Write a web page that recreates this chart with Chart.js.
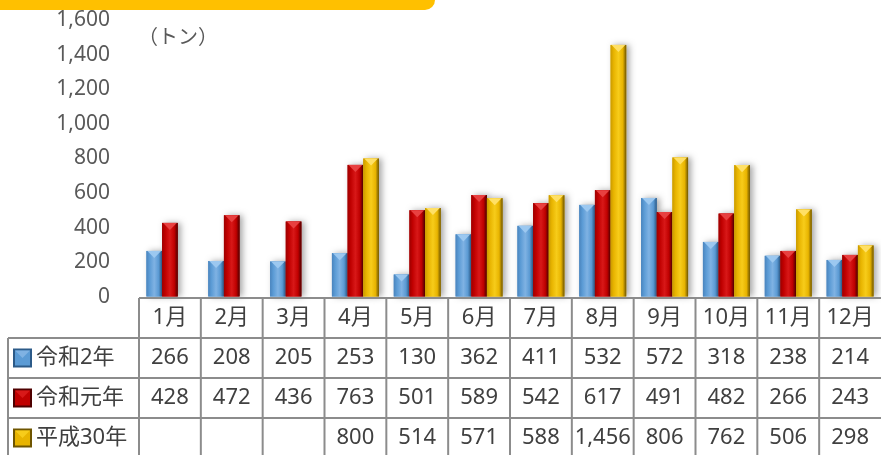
<!DOCTYPE html>
<html lang="ja">
	<head>
		<meta charset="utf-8" />
		<title>月別数量</title>
		<script src="https://cdn.jsdelivr.net/npm/chart.js@4/dist/chart.umd.min.js"></script>
		<style>
			html, body { margin: 0; padding: 0; background: #fff; }
			#wrap { position: relative; width: 881px; height: 455px; }
		</style>
	</head>
	<body>
		<div id="wrap"><canvas id="chart" width="881" height="455"></canvas></div>

		<script>
			const months = ["1月", "2月", "3月", "4月", "5月", "6月", "7月", "8月", "9月", "10月", "11月", "12月"];
			const seriesNames = ["令和2年", "令和元年", "平成30年"];
			const reiwa2 = [266, 208, 205, 253, 130, 362, 411, 532, 572, 318, 238, 214];
			const reiwa1 = [428, 472, 436, 763, 501, 589, 542, 617, 491, 482, 266, 243];
			const heisei30 = [null, null, null, 800, 514, 571, 588, 1456, 806, 762, 506, 298];
			const yTicks = [0, 200, 400, 600, 800, 1000, 1200, 1400, 1600];
			const unitLabel = "（トン）";

			const FONT = "'Noto Sans', 'Noto Sans CJK JP', sans-serif";
			// colors for the bevelled bars: [left, light, mid, dark, cap]
			const palettes = [
				["#4a84bd", "#7fb2e3", "#5b9bd5", "#2c5a88", "#9cc8f0"],
				["#9c0000", "#d81818", "#c00000", "#4e0000", "#e84040"],
				["#c99a00", "#f7cc1a", "#e8b400", "#6e5500", "#ffe066"],
			];

			function fmt(v) {
				return v == null ? "" : v.toLocaleString("en-US");
			}

			function bevelFill(ctx, l, t, r, b, pal) {
				const g = ctx.createLinearGradient(l, 0, r, 0);
				g.addColorStop(0, pal[0]);
				g.addColorStop(0.2, pal[2]);
				g.addColorStop(0.5, pal[1]);
				g.addColorStop(0.78, pal[2]);
				g.addColorStop(1, pal[3]);
				ctx.fillStyle = g;
				ctx.fillRect(l, t, r - l, b - t);
			}

			const bevelBars = {
				id: "bevelBars",
				afterDatasetsDraw(chart) {
					const ctx = chart.ctx;
					ctx.save();
					chart.data.datasets.forEach((ds, di) => {
						const meta = chart.getDatasetMeta(di);
						const pal = palettes[di];
						meta.data.forEach((bar, i) => {
							if (ds.data[i] == null) return;
							const l = bar.x - bar.width / 2;
							const r = bar.x + bar.width / 2;
							const t = bar.y;
							const b = bar.base;
							const w = r - l;
							// soft shadow on the right
							ctx.save();
							ctx.shadowColor = "rgba(0,0,0,0.35)";
							ctx.shadowBlur = 6;
							ctx.shadowOffsetX = 3;
							ctx.fillStyle = pal[2];
							ctx.fillRect(l, t, w, b - t);
							ctx.restore();
							bevelFill(ctx, l, t, r, b, pal);
							// top cap
							const capH = Math.min(w * 0.45, b - t);
							ctx.fillStyle = pal[4];
							ctx.beginPath();
							ctx.moveTo(l + 1, t);
							ctx.lineTo(r - 1, t);
							ctx.lineTo(bar.x, t + capH);
							ctx.closePath();
							ctx.fill();
						});
					});
					ctx.restore();
				},
			};

			const frame = {
				id: "frame",
				beforeDraw(chart) {
					const ctx = chart.ctx;
					// yellow banner strip at top
					ctx.save();
					ctx.fillStyle = "#ffc000";
					ctx.beginPath();
					ctx.moveTo(0, 0);
					ctx.lineTo(435, 0);
					ctx.arcTo(435, 10, 425, 10, 10);
					ctx.lineTo(0, 10);
					ctx.closePath();
					ctx.fill();
					ctx.fillStyle = "#595959";
					ctx.font = "20px " + FONT;
					ctx.textBaseline = "middle";
					ctx.fillText(unitLabel, 138, 38);
					ctx.restore();
				},
				afterDraw(chart) {
					const ctx = chart.ctx;
					const x = chart.scales.x;
					const area = chart.chartArea;
					const colW = (area.right - area.left) / months.length;
					const top = area.bottom + 1;
					const rowH = 40;
					const rows = [reiwa2, reiwa1, heisei30];
					ctx.save();
					ctx.strokeStyle = "#8c8c8c";
					ctx.lineWidth = 2;
					ctx.beginPath();
					// horizontal lines
					ctx.moveTo(area.left, top);
					ctx.lineTo(881, top);
					for (let r = 1; r <= 3; r++) {
						ctx.moveTo(8, top + r * rowH);
						ctx.lineTo(881, top + r * rowH);
					}
					// verticals
					ctx.moveTo(8, top + rowH);
					ctx.lineTo(8, 455);
					for (let i = 0; i < months.length; i++) {
						const cx = x.getPixelForValue(i) - colW / 2;
						ctx.moveTo(cx, top);
						ctx.lineTo(cx, 455);
					}
					ctx.stroke();

					ctx.fillStyle = "#404040";
					ctx.font = "22px " + FONT;
					ctx.textAlign = "center";
					ctx.textBaseline = "middle";
					months.forEach((m, i) => {
						const cx = x.getPixelForValue(i);
						ctx.fillText(m, cx, top + rowH / 2);
						rows.forEach((vals, r) => {
							ctx.fillText(fmt(vals[i]), cx, top + rowH * (r + 1) + rowH / 2);
						});
					});
					// legend keys
					ctx.textAlign = "left";
					seriesNames.forEach((name, r) => {
						const cy = top + rowH * (r + 1) + rowH / 2;
						const pal = palettes[r];
						const kx = 13, ks = 19;
						ctx.fillStyle = pal[3];
						ctx.fillRect(kx, cy - ks / 2, ks, ks);
						ctx.fillStyle = pal[2];
						ctx.fillRect(kx + 2, cy - ks / 2 + 2, ks - 4, ks - 4);
						ctx.fillStyle = pal[1];
						ctx.beginPath();
						ctx.moveTo(kx + 2, cy - ks / 2 + 2);
						ctx.lineTo(kx + ks - 2, cy - ks / 2 + 2);
						ctx.lineTo(kx + ks / 2, cy);
						ctx.closePath();
						ctx.fill();
						ctx.fillStyle = "#404040";
						ctx.fillText(name, 36, cy);
					});
					ctx.restore();
				},
			};

			new Chart(document.getElementById("chart"), {
				type: "bar",
				data: {
					labels: months,
					datasets: [
						{ label: seriesNames[0], data: reiwa2, backgroundColor: "rgba(0,0,0,0)" },
						{ label: seriesNames[1], data: reiwa1, backgroundColor: "rgba(0,0,0,0)" },
						{ label: seriesNames[2], data: heisei30, backgroundColor: "rgba(0,0,0,0)" },
					],
				},
				options: {
					responsive: false,
					animation: false,
					layout: { padding: { top: 20, bottom: 158, left: 0, right: 0 } },
					datasets: { bar: { categoryPercentage: 0.76, barPercentage: 1.0 } },
					plugins: { legend: { display: false }, tooltip: { enabled: false } },
					scales: {
						x: { display: false },
						y: {
							min: 0,
							max: 1600,
							afterBuildTicks: (s) => { s.ticks = yTicks.map((v) => ({ value: v })); },
							afterFit: (s) => { s.width = 139; },
							grid: {
								display: true,
								color: "rgba(0,0,0,0)",
								drawOnChartArea: false,
								drawTicks: true,
								tickLength: 27,
							},
							border: { display: false },
							ticks: {
								color: "#595959",
								font: { size: 21, family: FONT },
								padding: 2,
								callback: (v) => v.toLocaleString("en-US"),
							},
						},
					},
				},
				plugins: [frame, bevelBars],
			});
		</script>
	</body>
</html>
